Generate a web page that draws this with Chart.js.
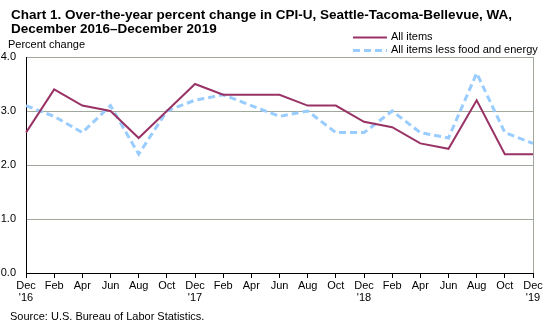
<!DOCTYPE html>
<html>
<head>
<meta charset="utf-8">
<script src="https://cdn.jsdelivr.net/npm/chart.js@4"></script>
<style>
  html, body { margin: 0; padding: 0; background: #fff; }
  #wrap { position: relative; width: 551px; height: 326px; }
</style>
</head>
<body>
<div id="wrap"><canvas id="c" width="551" height="326"></canvas></div>
<script>
// ---- Data ----
const months = ["Dec","Feb","Apr","Jun","Aug","Oct","Dec","Feb","Apr","Jun","Aug","Oct","Dec","Feb","Apr","Jun","Aug","Oct","Dec"];
const yearLabels = ["'16","","","","","","'17","","","","","","'18","","","","","","'19"];
const allItems = [2.6,3.4,3.1,3.0,2.5,3.0,3.5,3.3,3.3,3.3,3.1,3.1,2.8,2.7,2.4,2.3,3.2,2.2,2.2];
const coreItems = [3.1,2.9,2.6,3.1,2.2,3.0,3.2,3.3,3.1,2.9,3.0,2.6,2.6,3.0,2.6,2.5,3.7,2.6,2.4];
const yTicks = [0,1,2,3,4];
const titleLines = ["Chart 1. Over-the-year percent change in CPI-U, Seattle-Tacoma-Bellevue, WA,", "December 2016\u2013December 2019"];
const yAxisTitle = "Percent change";
const seriesNames = ["All items", "All items less food and energy"];
const sourceText = "Source: U.S. Bureau of Labor Statistics.";

const labels = months.map((m, i) => yearLabels[i] ? [m, yearLabels[i]] : [m]);
const FONT = "'Liberation Sans', Arial, sans-serif";
const GRID = '#a0a89c';
const C1 = '#993366';
const C2 = '#99ccff';

const decor = {
  id: 'decor',
  afterDraw(chart) {
    const ctx = chart.ctx;
    const a = chart.chartArea;
    ctx.save();
    // right border
    ctx.strokeStyle = GRID; ctx.lineWidth = 1;
    ctx.beginPath(); ctx.moveTo(a.right + 0.5, a.top); ctx.lineTo(a.right + 0.5, a.bottom); ctx.stroke();
    // title
    ctx.fillStyle = '#000';
    ctx.textBaseline = 'alphabetic'; ctx.textAlign = 'left';
    ctx.font = 'bold 13.5px ' + FONT;
    ctx.fillText(titleLines[0], 11, 19);
    ctx.fillText(titleLines[1], 11, 33);
    // axis title
    ctx.font = '11px ' + FONT;
    ctx.fillText(yAxisTitle, 8, 48);
    // source
    ctx.fillText(sourceText, 10, 320);
    // legend
    ctx.textBaseline = 'middle';
    ctx.strokeStyle = C1; ctx.lineWidth = 2; ctx.setLineDash([]);
    ctx.beginPath(); ctx.moveTo(353, 37.5); ctx.lineTo(387, 37.5); ctx.stroke();
    ctx.fillText(seriesNames[0], 391, 37);
    ctx.strokeStyle = C2; ctx.lineWidth = 3; ctx.setLineDash([7,4]);
    ctx.beginPath(); ctx.moveTo(353, 50.5); ctx.lineTo(387, 50.5); ctx.stroke();
    ctx.setLineDash([]);
    ctx.fillText(seriesNames[1], 391, 50);
    ctx.restore();
  }
};

new Chart(document.getElementById('c'), {
  type: 'line',
  data: {
    labels: labels,
    datasets: [
      { label: seriesNames[1], data: coreItems, borderColor: C2, backgroundColor: C2, borderWidth: 3, borderDash: [7,4], pointRadius: 0, tension: 0, fill: false, order: 2 },
      { label: seriesNames[0], data: allItems, borderColor: C1, backgroundColor: C1, borderWidth: 2, pointRadius: 0, tension: 0, fill: false, order: 1 }
    ]
  },
  options: {
    responsive: false,
    animation: false,
    events: [],
    layout: { padding: { top: 57, right: 18, left: 0, bottom: 0 } },
    plugins: { legend: { display: false }, title: { display: false }, tooltip: { enabled: false } },
    scales: {
      x: {
        offset: false,
        grid: { drawOnChartArea: false, drawTicks: true, tickLength: 5, tickColor: '#000' },
        border: { color: '#000', width: 1 },
        ticks: { color: '#000', font: { family: FONT, size: 11, lineHeight: 1.1 }, maxRotation: 0, autoSkip: false, padding: 2 },
        afterFit(scale) { scale.height = 53; }
      },
      y: {
        min: 0, max: 4,
        afterBuildTicks(scale) { scale.ticks = yTicks.map(v => ({ value: v })); },
        grid: { color: GRID, drawTicks: false },
        border: { color: '#000', width: 1 },
        ticks: { color: '#000', font: { family: FONT, size: 11 }, padding: 10, callback: v => Number(v).toFixed(1) },
        afterFit(scale) { scale.width = 26; }
      }
    }
  },
  plugins: [decor]
});
</script>
</body>
</html>
